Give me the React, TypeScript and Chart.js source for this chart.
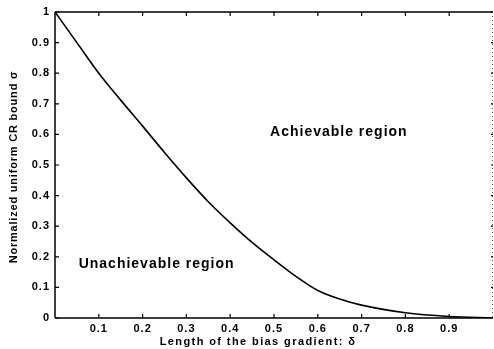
import React, { useEffect, useRef } from "react";
import { Chart, registerables } from "chart.js";

Chart.register(...registerables);

const deltaValues = [0, 0.05, 0.1, 0.15, 0.2, 0.25, 0.3, 0.35, 0.4, 0.45, 0.5, 0.55, 0.6, 0.65, 0.7, 0.8, 0.9, 1.0];
const sigmaValues = [1, 0.9, 0.8, 0.712, 0.627, 0.541, 0.458, 0.38, 0.311, 0.247, 0.19, 0.136, 0.09, 0.062, 0.042, 0.017, 0.005, 0.0];
const xTickValues = [0.1, 0.2, 0.3, 0.4, 0.5, 0.6, 0.7, 0.8, 0.9];
const yTickValues = [0, 0.1, 0.2, 0.3, 0.4, 0.5, 0.6, 0.7, 0.8, 0.9, 1];
const xTitle = "Length of the bias gradient: δ";
const yTitle = "Normalized uniform CR bound σ";
const annotations = [
  { text: "Achievable region", x: 0.491, y: 0.608 },
  { text: "Unachievable region", x: 0.054, y: 0.175 },
];

const FONT = "'Liberation Sans', Arial, sans-serif";

const boxPlugin = {
  id: "boxTicks",
  beforeDraw(chart: any) {
    chart.ctx.letterSpacing = "1px";
  },
  afterDraw(chart: any) {
    const { ctx, chartArea } = chart;
    const xs = chart.scales.x;
    const ys = chart.scales.y;
    const { left, right, top, bottom } = chartArea;
    ctx.save();
    ctx.strokeStyle = "#000";
    ctx.lineWidth = 1.5;
    ctx.beginPath();
    ctx.moveTo(left, top);
    ctx.lineTo(right, top);
    ctx.moveTo(left, top);
    ctx.lineTo(left, bottom);
    ctx.moveTo(left, bottom);
    ctx.lineTo(right, bottom);
    ctx.stroke();
    ctx.lineWidth = 1;
    ctx.strokeStyle = "#666";
    ctx.setLineDash([1, 3]);
    ctx.beginPath();
    ctx.moveTo(right - 0.5, top);
    ctx.lineTo(right - 0.5, bottom);
    ctx.stroke();
    ctx.setLineDash([]);
    ctx.strokeStyle = "#000";
    ctx.lineWidth = 1.2;
    const tl = 4;
    ctx.beginPath();
    xTickValues.forEach((v) => {
      const px = xs.getPixelForValue(v);
      ctx.moveTo(px, bottom);
      ctx.lineTo(px, bottom - tl);
      ctx.moveTo(px, top);
      ctx.lineTo(px, top + tl);
    });
    yTickValues.forEach((v) => {
      const py = ys.getPixelForValue(v);
      ctx.moveTo(left, py);
      ctx.lineTo(left + tl, py);
      ctx.moveTo(right, py);
      ctx.lineTo(right - 2, py);
    });
    ctx.stroke();
    ctx.fillStyle = "#000";
    ctx.font = `bold 14px ${FONT}`;
    ctx.letterSpacing = "1px";
    ctx.textBaseline = "middle";
    ctx.textAlign = "left";
    annotations.forEach((a) => {
      ctx.fillText(a.text, xs.getPixelForValue(a.x), ys.getPixelForValue(a.y));
    });
    // axis titles
    ctx.font = `bold 11px ${FONT}`;
    ctx.letterSpacing = "1.4px";
    ctx.textAlign = "center";
    ctx.fillText(xTitle, 258, 342);
    ctx.letterSpacing = "0.8px";
    ctx.translate(14, (top + bottom) / 2 + 2);
    ctx.rotate(-Math.PI / 2);
    ctx.fillText(yTitle, 0, 0);
    ctx.restore();
  },
};

export default function App() {
  const ref = useRef<HTMLCanvasElement | null>(null);
  useEffect(() => {
    document.body.style.margin = "0";
    const canvas = ref.current;
    if (!canvas) return;
    const chart = new Chart(canvas, {
      type: "line",
      data: {
        datasets: [
          {
            data: deltaValues.map((d, i) => ({ x: d, y: sigmaValues[i] })),
            borderColor: "#000",
            borderWidth: 1.6,
            pointRadius: 0,
            cubicInterpolationMode: "monotone",
            fill: false,
          },
        ],
      },
      options: {
        animation: false,
        responsive: false,
        maintainAspectRatio: false,
        layout: { padding: { top: 12, right: 1, left: 0, bottom: 0 } },
        plugins: { legend: { display: false }, tooltip: { enabled: false } },
        scales: {
          x: {
            type: "linear",
            min: 0,
            max: 1,
            grid: { display: false, drawTicks: false },
            border: { display: false },
            afterBuildTicks: (s: any) => {
              s.ticks = xTickValues.map((v) => ({ value: v }));
            },
            afterFit: (s: any) => {
              s.height = 31;
            },
            ticks: {
              color: "#000",
              padding: 4,
              maxRotation: 0,
              font: { family: FONT, size: 11, weight: "bold" },
              callback: (v: any) => String(Number(v).toFixed(1)),
            },
          },
          y: {
            type: "linear",
            min: 0,
            max: 1,
            grid: { display: false, drawTicks: false },
            border: { display: false },
            afterBuildTicks: (s: any) => {
              s.ticks = yTickValues.map((v) => ({ value: v }));
            },
            afterFit: (s: any) => {
              s.width = 55;
            },
            ticks: {
              color: "#000",
              padding: 5,
              font: { family: FONT, size: 11, weight: "bold" },
              callback: (v: any) => (v === 0 ? "0" : v === 1 ? "1" : Number(v).toFixed(1)),
            },
          },
        },
      },
      plugins: [boxPlugin],
    });
    return () => chart.destroy();
  }, []);
  return (
    <div style={{ width: 494, height: 349, background: "#fff" }}>
      <canvas ref={ref} width={494} height={349} style={{ display: "block" }} />
    </div>
  );
}
